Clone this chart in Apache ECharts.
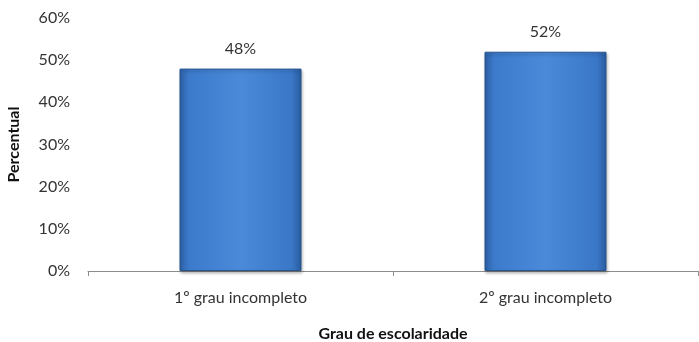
<!DOCTYPE html>
<html>
<head>
<meta charset="utf-8">
<script src="https://cdn.jsdelivr.net/npm/echarts@6/dist/echarts.min.js"></script>
<style>
html,body{margin:0;padding:0;background:#fff;}
#chart{width:699px;height:342px;}
</style>
</head>
<body>
<div id="chart"></div>
<script>
// Escolaridade: percentual por grau
const categories = ['1º grau incompleto', '2º grau incompleto'];
const values = [48, 52];
const yTicks = [0, 10, 20, 30, 40, 50, 60];

const font = 'Lato, "Open Sans", sans-serif';
const chart = echarts.init(document.getElementById('chart'));

const barFill = new echarts.graphic.LinearGradient(0, 0, 1, 0, [
  { offset: 0, color: '#2d62a8' },
  { offset: 0.08, color: '#3c7acb' },
  { offset: 0.5, color: '#4a8ad9' },
  { offset: 0.92, color: '#3a77c7' },
  { offset: 1, color: '#2a5c9e' }
]);

chart.setOption({
  animation: false,
  grid: { left: 88, right: 1, top: 18, bottom: 71, containLabel: false, outerBoundsMode: 'none' },
  xAxis: {
    type: 'category',
    data: categories,
    name: 'Grau de escolaridade',
    nameLocation: 'middle',
    nameGap: 55,
    nameTextStyle: { fontFamily: font, fontSize: 16, fontWeight: 'bold', color: '#111' },
    axisLine: { lineStyle: { color: '#8c8c8c', width: 1 } },
    axisTick: { show: true, length: 5, lineStyle: { color: '#8c8c8c' } },
    axisLabel: { fontFamily: font, fontSize: 16, color: '#333', margin: 19 }
  },
  yAxis: {
    type: 'value',
    min: yTicks[0],
    max: yTicks[yTicks.length - 1],
    interval: 10,
    name: 'Percentual',
    nameLocation: 'middle',
    nameGap: 66,
    nameTextStyle: { fontFamily: font, fontSize: 16, fontWeight: 'bold', color: '#111' },
    axisLine: { show: false },
    axisTick: { show: false },
    splitLine: { show: false },
    axisLabel: { fontFamily: font, fontSize: 16, color: '#333', margin: 18, formatter: v => v + '%' }
  },
  series: [{
    type: 'bar',
    data: values,
    barWidth: '40%',
    itemStyle: {
      color: barFill,
      borderColor: '#27558f',
      borderWidth: 1,
      shadowColor: 'rgba(0,0,0,0.25)',
      shadowBlur: 3,
      shadowOffsetX: 1,
      shadowOffsetY: 2
    },
    label: {
      show: true,
      position: 'top',
      distance: 12,
      fontFamily: font,
      fontSize: 16,
      color: '#333',
      formatter: p => p.value + '%'
    }
  }]
});
</script>
</body>
</html>
